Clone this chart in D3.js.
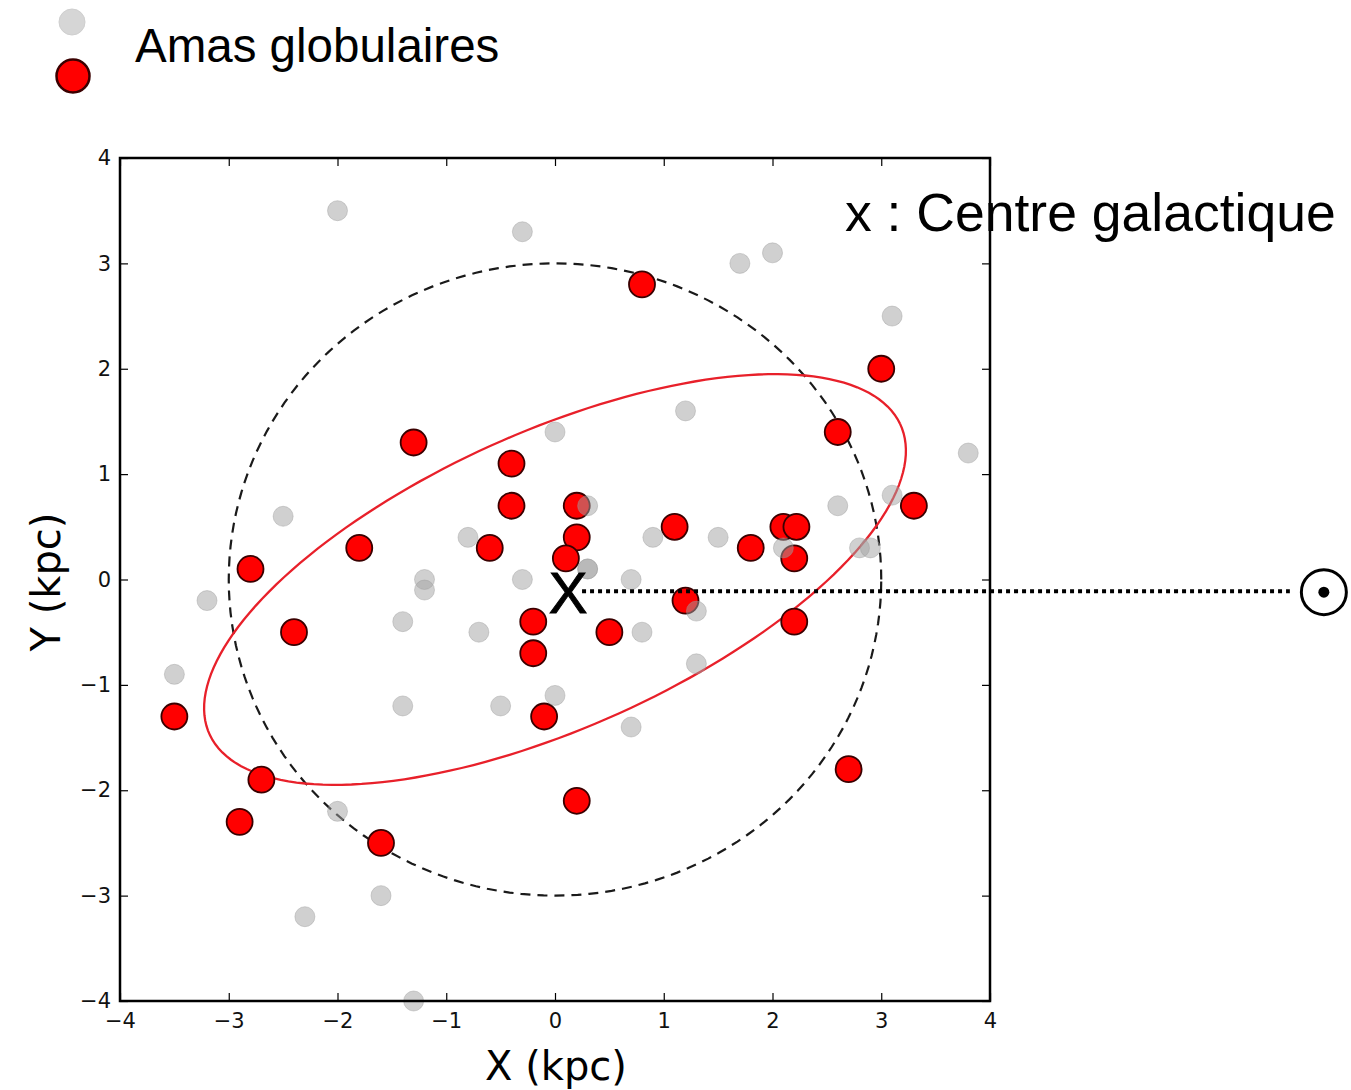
<!DOCTYPE html>
<html>
<head>
<meta charset="utf-8">
<script src="https://cdn.jsdelivr.net/npm/d3@7"></script>
<style>
  body { margin: 0; background: #fff; }
  svg text { font-family: "DejaVu Sans", sans-serif; }
</style>
</head>
<body>
<div id="chart"></div>
<script>
// globular clusters seen in red (selection) and grey (all others), in kpc
var redClusters = [
  [0.8, 2.8], [3.0, 2.0], [2.6, 1.4], [-1.3, 1.3], [-0.4, 1.1], [-0.4, 0.7],
  [0.2, 0.7], [0.2, 0.4], [0.1, 0.2], [-0.6, 0.3], [-1.8, 0.3], [1.1, 0.5],
  [1.8, 0.3], [2.1, 0.5], [2.22, 0.5], [2.2, 0.2], [3.3, 0.7], [-2.8, 0.1],
  [-2.4, -0.5], [1.2, -0.2], [-0.2, -0.4], [-0.2, -0.7], [0.5, -0.5], [2.2, -0.4],
  [-3.5, -1.3], [-0.1, -1.3], [-2.7, -1.9], [-2.9, -2.3], [-1.6, -2.5], [0.2, -2.1],
  [2.7, -1.8]
];
var greyClusters = [
  [-2.0, 3.5], [-0.3, 3.3], [1.7, 3.0], [2.0, 3.1], [3.1, 2.5], [1.2, 1.6],
  [0.0, 1.4], [3.8, 1.2], [-2.5, 0.6], [2.6, 0.7], [3.1, 0.8], [0.3, 0.7],
  [-0.8, 0.4], [0.9, 0.4], [1.5, 0.4], [2.1, 0.3], [2.8, 0.3], [2.9, 0.3],
  [-1.2, 0.0], [-1.2, -0.1], [-0.3, 0.0], [0.3, 0.1], [0.3, 0.1], [0.7, 0.0],
  [-3.2, -0.2], [-1.4, -0.4], [-0.7, -0.5], [0.8, -0.5], [1.3, -0.3], [1.3, -0.8],
  [-3.5, -0.9], [0.0, -1.1], [-1.4, -1.2], [-0.5, -1.2], [0.7, -1.4], [-2.0, -2.2],
  [-1.6, -3.0], [-2.3, -3.2], [-1.3, -4.0]
];
var tickValues = [-4, -3, -2, -1, 0, 1, 2, 3, 4];

// shapes: circle of radius 3 kpc, fitted ellipse, galactic centre, sun
var ringRadius = 3;
var fitA = 3.5, fitB = 1.4, fitAngle = 25;
var centre = [0.12, -0.12];
var sunX = 7.07;

var svg = d3.select('#chart')
  .append('svg')
    .attr('width', 1351)
    .attr('height', 1090);

var x = d3.scaleLinear().domain([-4, 4]).range([120, 990]);
var y = d3.scaleLinear().domain([-4, 4]).range([1001, 158]);

// legend
svg.append('circle').attr('cx', 72).attr('cy', 22).attr('r', 13)
  .attr('fill', '#d6d6d6').attr('stroke', '#cfcfcf');
svg.append('circle').attr('cx', 73).attr('cy', 76).attr('r', 16.5)
  .attr('fill', '#ff0000').attr('stroke', '#3a0000').attr('stroke-width', 2.5);
svg.append('text').attr('x', 135).attr('y', 62)
  .style('font-family', '"Liberation Sans", Arial, sans-serif')
  .style('font-size', '47.5px')
  .text('Amas globulaires');

// annotation (drawn under the frame)
svg.append('text').attr('x', 845).attr('y', 231)
  .style('font-family', '"Liberation Sans", Arial, sans-serif')
  .style('font-size', '53.5px')
  .text('x : Centre galactique');

var plot = svg.append('g');

// dashed ring
var angles = d3.range(0, 361, 2).map(function(d) { return d * Math.PI / 180; });
var line = d3.line().x(function(d) { return x(d[0]); }).y(function(d) { return y(d[1]); });

plot.append('path')
  .attr('d', line(angles.map(function(t) { return [ringRadius * Math.cos(t), ringRadius * Math.sin(t)]; })))
  .attr('fill', 'none').attr('stroke', '#1a1a1a').attr('stroke-width', 2.2)
  .attr('stroke-dasharray', '10,7');

// fitted ellipse
var rot = fitAngle * Math.PI / 180;
plot.append('path')
  .attr('d', line(angles.map(function(t) {
    var u = fitA * Math.cos(t), v = fitB * Math.sin(t);
    return [u * Math.cos(rot) - v * Math.sin(rot), u * Math.sin(rot) + v * Math.cos(rot)];
  })))
  .attr('fill', 'none').attr('stroke', '#e8202a').attr('stroke-width', 2.3);

// red clusters
plot.selectAll('.red').data(redClusters).enter()
  .append('circle')
    .attr('class', 'red')
    .attr('cx', function(d) { return x(d[0]); })
    .attr('cy', function(d) { return y(d[1]); })
    .attr('r', 13)
    .attr('fill', '#ff0000')
    .attr('stroke', '#3a0000')
    .attr('stroke-width', 1.8);

// grey clusters, semi transparent on top
plot.selectAll('.grey').data(greyClusters).enter()
  .append('circle')
    .attr('class', 'grey')
    .attr('cx', function(d) { return x(d[0]); })
    .attr('cy', function(d) { return y(d[1]); })
    .attr('r', 10)
    .attr('fill', '#a2a2a2')
    .attr('fill-opacity', 0.5)
    .attr('stroke', '#999')
    .attr('stroke-opacity', 0.4);

// dotted line from the centre to the sun
svg.append('line')
  .attr('x1', x(centre[0]) + 14).attr('y1', y(centre[1]) - 1)
  .attr('x2', x(sunX) - 34).attr('y2', y(centre[1]) - 1)
  .attr('stroke', '#000').attr('stroke-width', 4)
  .attr('stroke-dasharray', '4,4');

svg.append('text')
  .attr('x', x(centre[0])).attr('y', y(centre[1]) + 21)
  .attr('text-anchor', 'middle')
  .style('font-family', '"Liberation Sans", Arial, sans-serif')
  .style('font-size', '58px')
  .attr('stroke', '#000').attr('stroke-width', 1)
  .text('X');

// sun symbol
svg.append('circle').attr('cx', x(sunX)).attr('cy', y(centre[1])).attr('r', 22.5)
  .attr('fill', 'none').attr('stroke', '#000').attr('stroke-width', 3);
svg.append('circle').attr('cx', x(sunX)).attr('cy', y(centre[1])).attr('r', 5.5)
  .attr('fill', '#000');

// axes with inward ticks on all four sides
var fmt = d3.format('d');
svg.append('g').attr('transform', 'translate(0,1001)')
  .call(d3.axisBottom(x).tickValues(tickValues).tickSizeInner(-8).tickSizeOuter(0).tickPadding(12).tickFormat(fmt))
  .call(function(g) { g.select('.domain').remove(); })
  .selectAll('text').style('font-size', '21px').attr('fill', '#111');
svg.append('g').attr('transform', 'translate(0,158)')
  .call(d3.axisTop(x).tickValues(tickValues).tickSizeInner(-8).tickSizeOuter(0).tickFormat(''))
  .call(function(g) { g.select('.domain').remove(); });
svg.append('g').attr('transform', 'translate(120,0)')
  .call(d3.axisLeft(y).tickValues(tickValues).tickSizeInner(-8).tickSizeOuter(0).tickPadding(9).tickFormat(fmt))
  .call(function(g) { g.select('.domain').remove(); })
  .selectAll('text').style('font-size', '21px').attr('fill', '#111');
svg.append('g').attr('transform', 'translate(990,0)')
  .call(d3.axisRight(y).tickValues(tickValues).tickSizeInner(-8).tickSizeOuter(0).tickFormat(''))
  .call(function(g) { g.select('.domain').remove(); });

svg.selectAll('.tick line').attr('stroke', '#000').attr('stroke-width', 1.2);

// frame
svg.append('rect')
  .attr('x', 120).attr('y', 158).attr('width', 870).attr('height', 843)
  .attr('fill', 'none').attr('stroke', '#000').attr('stroke-width', 2.5);

// axis titles
svg.append('text').attr('x', 556).attr('y', 1080)
  .attr('text-anchor', 'middle').style('font-size', '40px')
  .text('X (kpc)');
svg.append('text').attr('transform', 'translate(60,582) rotate(-90)')
  .attr('text-anchor', 'middle').style('font-size', '40px')
  .text('Y (kpc)');
</script>
</body>
</html>
